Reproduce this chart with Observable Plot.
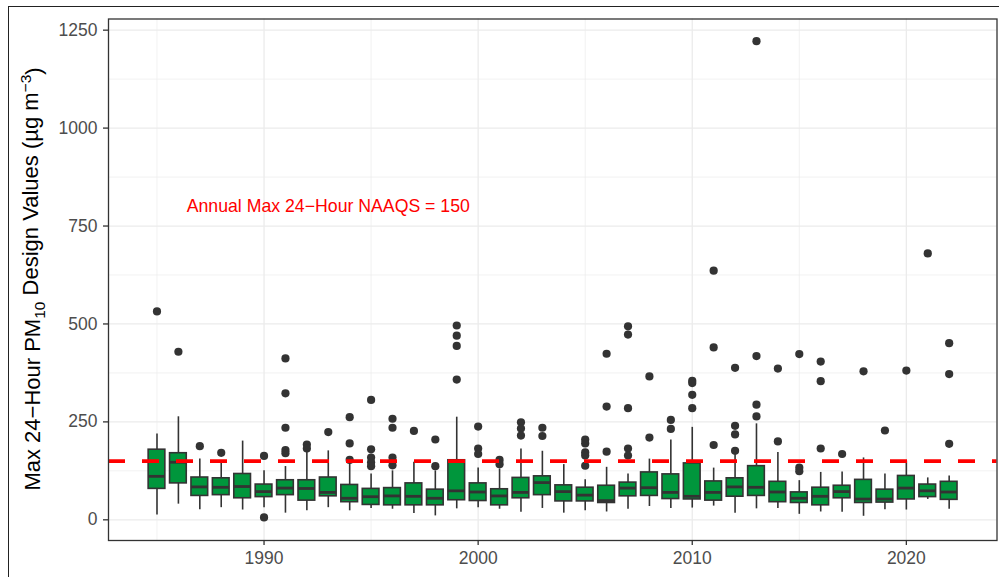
<!DOCTYPE html>
<html>
<head>
<meta charset="utf-8">
<script src="https://cdn.jsdelivr.net/npm/d3@7"></script>
<script src="https://cdn.jsdelivr.net/npm/@observablehq/plot@0.6"></script>
<style>
  html, body { margin: 0; padding: 0; background: #fff; overflow: hidden; }
  #wrap { position: relative; width: 999px; height: 577px; overflow: hidden; background: #fff; }
  #wrap svg { position: absolute; left: 0; top: 0; }
  #outer { position: absolute; left: 8px; top: 6px; width: 2000px; height: 2000px; border: 1.5px solid #222; pointer-events: none; }
</style>
</head>
<body>
<div id="wrap"><div id="outer"></div></div>
<script>
// ---- data ----
const years = [1985,1986,1987,1988,1989,1990,1991,1992,1993,1994,1995,1996,1997,1998,1999,2000,2001,2002,2003,2004,2005,2006,2007,2008,2009,2010,2011,2012,2013,2014,2015,2016,2017,2018,2019,2020,2021,2022];
const whiskerLow  = [12,40,26,31,25,31,17,23,31,23,29,27,16,10,28,31,27,19,29,17,23,20,27,34,29,30,35,17,28,29,14,20,19,9,26,25,52,27];
const q1          = [79,93,61,63,55,58,63,49,60,45,38,37,37,37,50,48,37,55,63,47,47,43,60,61,53,52,49,59,61,45,43,37,55,43,44,52,58,51];
const median      = [111,147,84,83,85,72,81,80,70,55,59,61,60,55,74,71,61,70,95,72,63,49,81,82,70,60,70,84,83,71,55,60,72,53,53,81,74,71];
const q3          = [179,170,108,106,117,90,101,101,108,89,79,81,93,77,152,93,78,107,111,88,82,87,95,121,116,144,98,106,137,97,70,82,87,102,77,112,90,97];
const whiskerHigh = [219,263,155,151,201,125,136,172,176,144,117,125,147,125,262,132,130,181,175,141,102,134,117,155,204,236,132,166,245,172,100,121,122,158,117,150,107,112];

const outlierYears  = [1985,1986,1987,1988,1990,1990,1991,1991,1991,1991,1991,1992,1992,1993,1994,1994,1994,1995,1995,1995,1995,1995,1996,1996,1996,1996,1997,1998,1998,1999,1999,1999,1999,2000,2000,2000,2001,2001,2002,2002,2002,2003,2003,2005,2005,2005,2005,2005,2006,2006,2006,2007,2007,2007,2007,2007,2008,2008,2009,2009,2010,2010,2010,2010,2011,2011,2011,2012,2012,2012,2012,2013,2013,2013,2013,2014,2014,2015,2015,2015,2016,2016,2016,2017,2018,2019,2020,2021,2022,2022,2022];
const outlierValues = [532,429,188,171,163,6,412,323,235,178,170,192,182,224,262,195,153,306,180,159,147,137,258,235,159,139,227,205,137,496,470,444,358,238,182,168,153,142,249,233,215,235,214,205,195,172,164,138,424,289,174,494,473,285,182,164,366,210,255,232,355,349,319,285,636,440,191,388,240,218,176,1222,418,294,264,386,200,423,133,124,404,354,182,168,379,228,381,680,451,372,194];

const xTicks = [1990, 2000, 2010, 2020];
const xMinor = [1985, 1995, 2005, 2015];
const yTicks = [0, 250, 500, 750, 1000, 1250];
const yMinor = [125, 375, 625, 875, 1125];

const naaqs = 150;
const annotationText = "Annual Max 24\u2212Hour NAAQS = 150";
const annotationYear = 1993;
const annotationValue = 800;

// ---- tables for the library ----
const boxes = years.map((y, i) => ({year: y, lo: whiskerLow[i], q1: q1[i], med: median[i], q3: q3[i], hi: whiskerHigh[i]}));
const outliers = outlierYears.map((y, i) => ({year: y, value: outlierValues[i]}));
const halfW = 0.39;

const chart = Plot.plot({
  width: 999,
  height: 577,
  marginLeft: 108,
  marginRight: 2.5,
  marginTop: 18.5,
  marginBottom: 37,
  style: {fontFamily: "'Liberation Sans', Arial, Helvetica, sans-serif", fontSize: "17.5px", background: "transparent", overflow: "visible"},
  x: {domain: [1982.735, 2024.234], axis: null},
  y: {domain: [-52.8, 1278.5], axis: null},
  marks: [
    Plot.ruleY(yMinor, {stroke: "#ebebeb", strokeWidth: 0.7}),
    Plot.ruleX(xMinor, {stroke: "#ebebeb", strokeWidth: 0.7}),
    Plot.ruleY(yTicks, {stroke: "#ebebeb", strokeWidth: 1.3}),
    Plot.ruleX(xTicks, {stroke: "#ebebeb", strokeWidth: 1.3}),
    Plot.ruleX(boxes, {x: "year", y1: "lo", y2: "hi", stroke: "#333333", strokeWidth: 1.6}),
    Plot.rect(boxes, {x1: d => d.year - halfW, x2: d => d.year + halfW, y1: "q1", y2: "q3", fill: "#00963c", stroke: "#333333", strokeWidth: 1.6}),
    Plot.ruleY(boxes, {y: "med", x1: d => d.year - halfW, x2: d => d.year + halfW, stroke: "#333333", strokeWidth: 2.8}),
    Plot.dot(outliers, {x: "year", y: "value", r: 4.1, fill: "#333333", stroke: "none"}),
    Plot.ruleY([naaqs], {stroke: "#ff0000", strokeWidth: 3.7, strokeDasharray: "17,17"}),
    Plot.text([annotationText], {x: annotationYear, y: annotationValue, text: d => d, fill: "#ff0000", fontSize: 17.7, textAnchor: "middle"}),
    Plot.frame({stroke: "#333333", strokeWidth: 1.3}),
    Plot.axisX({ticks: xTicks, tickFormat: d => String(d), tickSize: 5, tickPadding: 6, stroke: "#333333", strokeWidth: 1.3, fill: "#4d4d4d", fontSize: 17.5, label: null}),
    Plot.axisY({ticks: yTicks, tickFormat: d => String(d), tickSize: 5, tickPadding: 6, stroke: "#333333", strokeWidth: 1.3, fill: "#4d4d4d", fontSize: 17.5, label: null})
  ]
});

document.getElementById("wrap").insertBefore(chart, document.getElementById("outer"));

// y-axis title with subscript / superscript
const svg = d3.select(chart);
const t = svg.append("text")
  .attr("transform", "translate(40,279) rotate(-90)")
  .attr("text-anchor", "middle")
  .attr("fill", "#000")
  .style("font-size", "22px")
  .style("font-family", "'Liberation Sans', Arial, Helvetica, sans-serif");
t.append("tspan").text("Max 24\u2212Hour PM");
t.append("tspan").attr("dy", "0.3em").style("font-size", "15.5px").text("10");
t.append("tspan").attr("dy", "-0.3em").text(" Design Values (\u00b5g m");
t.append("tspan").attr("dy", "-0.45em").style("font-size", "15.5px").text("\u22123");
t.append("tspan").attr("dy", "0.45em").text(")");
</script>
</body>
</html>
